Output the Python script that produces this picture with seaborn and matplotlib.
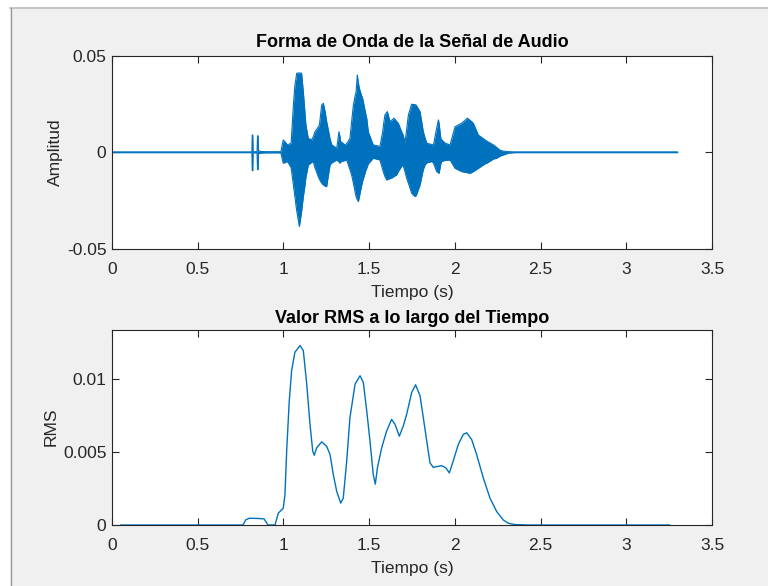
import matplotlib
matplotlib.use("Agg")
import matplotlib.pyplot as plt
import seaborn as sns
import pandas as pd
from matplotlib.patches import Rectangle
from matplotlib.lines import Line2D

# ---- waveform envelope (seconds, amplitude) ----
env_t = [0.000, 0.800, 0.816, 0.818, 0.821, 0.823, 0.846, 0.849, 0.852, 0.854,
         0.870, 0.900, 0.985, 0.999, 1.024, 1.045, 1.058, 1.067, 1.073, 1.077,
         1.093, 1.106, 1.116, 1.126, 1.131, 1.145, 1.165, 1.174, 1.184, 1.203,
         1.210, 1.223, 1.233, 1.243, 1.252, 1.262, 1.272, 1.282, 1.311, 1.324,
         1.330, 1.334, 1.360, 1.369, 1.388, 1.398, 1.408, 1.418, 1.424, 1.431,
         1.437, 1.443, 1.457, 1.462, 1.482, 1.486, 1.495, 1.524, 1.563, 1.579,
         1.582, 1.592, 1.602, 1.606, 1.622, 1.631, 1.645, 1.660, 1.670, 1.695,
         1.699, 1.709, 1.719, 1.729, 1.748, 1.768, 1.774, 1.797, 1.816, 1.826,
         1.836, 1.865, 1.875, 1.894, 1.904, 1.908, 1.918, 1.923, 1.943, 1.972,
         2.001, 2.040, 2.073, 2.089, 2.108, 2.137, 2.176, 2.186, 2.225, 2.244,
         2.264, 2.283, 2.312, 2.350, 2.400, 3.300]
env_upper = [0.0002, 0.0002, 0.0002, 0.0089, 0.0089, 0.0003, 0.0003, 0.0085,
             0.0085, 0.0008, 0.0004, 0.0003, 0.0003, 0.0064, 0.0038, 0.0047,
             0.0244, 0.0347, 0.0380, 0.0408, 0.0410, 0.0408, 0.0313, 0.0200,
             0.0141, 0.0072, 0.0064, 0.0080, 0.0106, 0.0130, 0.0141, 0.0244,
             0.0253, 0.0210, 0.0160, 0.0115, 0.0070, 0.0038, 0.0021, 0.0106,
             0.0080, 0.0055, 0.0038, 0.0045, 0.0072, 0.0160, 0.0244, 0.0290,
             0.0313, 0.0399, 0.0360, 0.0330, 0.0290, 0.0279, 0.0190, 0.0176,
             0.0106, 0.0038, 0.0030, 0.0106, 0.0130, 0.0193, 0.0205, 0.0210,
             0.0158, 0.0165, 0.0176, 0.0160, 0.0150, 0.0095, 0.0089, 0.0047,
             0.0120, 0.0193, 0.0248, 0.0246, 0.0244, 0.0210, 0.0106, 0.0075,
             0.0047, 0.0040, 0.0038, 0.0124, 0.0167, 0.0150, 0.0072, 0.0065,
             0.0047, 0.0038, 0.0132, 0.0150, 0.0176, 0.0165, 0.0150, 0.0089,
             0.0064, 0.0058, 0.0038, 0.0025, 0.0010, 0.0006, 0.0003, 0.0002,
             0.0002, 0.0002]
env_lower = [-0.0002, -0.0002, -0.0002, -0.0095, -0.0095, -0.0003, -0.0003,
             -0.0090, -0.0090, -0.0008, -0.0004, -0.0003, -0.0003, -0.0057,
             -0.0048, -0.0080, -0.0169, -0.0230, -0.0272, -0.0300, -0.0384,
             -0.0307, -0.0230, -0.0169, -0.0130, -0.0066, -0.0052, -0.0048,
             -0.0080, -0.0126, -0.0140, -0.0160, -0.0169, -0.0175, -0.0178,
             -0.0120, -0.0066, -0.0055, -0.0040, -0.0050, -0.0057, -0.0050,
             -0.0042, -0.0040, -0.0090, -0.0118, -0.0160, -0.0204, -0.0230,
             -0.0245, -0.0255, -0.0230, -0.0169, -0.0150, -0.0090, -0.0083,
             -0.0060, -0.0031, -0.0040, -0.0090, -0.0100, -0.0125, -0.0143,
             -0.0142, -0.0136, -0.0134, -0.0125, -0.0118, -0.0100, -0.0066,
             -0.0070, -0.0100, -0.0134, -0.0160, -0.0212, -0.0229, -0.0225,
             -0.0169, -0.0090, -0.0066, -0.0055, -0.0048, -0.0055, -0.0100,
             -0.0106, -0.0109, -0.0060, -0.0048, -0.0042, -0.0040, -0.0083,
             -0.0100, -0.0106, -0.0109, -0.0100, -0.0083, -0.0060, -0.0057,
             -0.0035, -0.0031, -0.0020, -0.0014, -0.0005, -0.0002, -0.0002,
             -0.0002]

# ---- RMS curve (seconds, RMS) ----
rms_t = [0.050, 0.764, 0.780, 0.800, 0.850, 0.887, 0.910, 0.951, 0.970, 0.999,
         1.009, 1.019, 1.034, 1.048, 1.067, 1.097, 1.116, 1.136, 1.155, 1.171,
         1.180, 1.194, 1.223, 1.252, 1.272, 1.291, 1.311, 1.334, 1.349, 1.369,
         1.388, 1.418, 1.447, 1.466, 1.486, 1.505, 1.524, 1.536, 1.548, 1.573,
         1.602, 1.631, 1.651, 1.676, 1.699, 1.719, 1.748, 1.771, 1.797, 1.816,
         1.836, 1.855, 1.874, 1.923, 1.948, 1.968, 1.987, 2.020, 2.049, 2.069,
         2.098, 2.127, 2.166, 2.205, 2.244, 2.283, 2.312, 2.350, 2.430, 3.254]
rms_val = [0.0, 0.0, 0.00035, 0.00046, 0.00045, 0.00042, 0.0, 0.0, 0.00081,
           0.00115, 0.0021, 0.0051, 0.0085, 0.0106, 0.01184, 0.0123, 0.01195,
           0.00966, 0.0069, 0.00506, 0.00478, 0.00529, 0.0057, 0.0054, 0.00483,
           0.00345, 0.0023, 0.0015, 0.00184, 0.00437, 0.00736, 0.00966,
           0.01023, 0.00977, 0.00781, 0.00575, 0.00345, 0.0028, 0.0039,
           0.00529, 0.00644, 0.00724, 0.0069, 0.00609, 0.00678, 0.00759,
           0.00908, 0.00961, 0.00885, 0.00736, 0.00575, 0.00426, 0.00395,
           0.00407, 0.00391, 0.00357, 0.00426, 0.00552, 0.00621, 0.00632,
           0.00586, 0.00483, 0.00322, 0.00184, 0.00092, 0.00034, 0.00012,
           0.00003, 0.0, 0.0]

x_ticks = [0, 0.5, 1, 1.5, 2, 2.5, 3, 3.5]
x_tick_labels = ["0", "0.5", "1", "1.5", "2", "2.5", "3", "3.5"]
wave_ticks = [-0.05, 0, 0.05]
wave_tick_labels = ["-0.05", "0", "0.05"]
rms_ticks = [0, 0.005, 0.01]
rms_tick_labels = ["0", "0.005", "0.01"]

LINE = "#0072BD"
TXT = "#262626"
FS = 12.5
TFS = 13

sns.set_theme(style="white")
plt.rcParams["font.family"] = ["Liberation Sans", "DejaVu Sans"]
plt.rcParams["axes.unicode_minus"] = False

fig = plt.figure(figsize=(7.68, 5.86), dpi=100, facecolor="#f0f0f0")
W, H = 768, 586

# window frame: white strip on top and left with a grey edge
fig.patches.append(Rectangle((0, 1 - 8 / H), 1, 8 / H, transform=fig.transFigure,
                             facecolor="white", edgecolor="none", zorder=0))
fig.patches.append(Rectangle((0, 0), 10 / W, 1, transform=fig.transFigure,
                             facecolor="white", edgecolor="none", zorder=0))
fig.lines.append(Line2D([10 / W, 1], [1 - 8 / H, 1 - 8 / H], transform=fig.transFigure,
                        color="#c6c6c6", lw=1.5))
fig.lines.append(Line2D([10.5 / W, 10.5 / W], [0, 1 - 8 / H], transform=fig.transFigure,
                        color="#9a9a9a", lw=1.0))


def px_axes(left, top, right, bottom):
    return fig.add_axes([left / W, 1 - bottom / H, (right - left) / W, (bottom - top) / H])


def style(ax):
    ax.set_facecolor("white")
    for s in ax.spines.values():
        s.set_color(TXT)
        s.set_linewidth(0.8)
    ax.tick_params(direction="in", length=5, width=0.8, colors=TXT, labelsize=FS,
                   top=True, right=True, bottom=True, left=True)
    ax.tick_params(axis="x", pad=9)
    ax.tick_params(axis="y", pad=4)
    ax.set_xlim(0, 3.5)
    ax.set_xticks(x_ticks)
    ax.set_xticklabels(x_tick_labels)


# ---- waveform ----
ax1 = px_axes(112, 55.5, 712, 249)
style(ax1)
wave = pd.DataFrame({"t": env_t, "up": env_upper, "lo": env_lower})
ax1.fill_between(wave["t"], wave["lo"], wave["up"], color=LINE, linewidth=0)
sns.lineplot(data=wave, x="t", y="up", ax=ax1, color=LINE, linewidth=0.8)
sns.lineplot(data=wave, x="t", y="lo", ax=ax1, color=LINE, linewidth=0.8)
ax1.set_ylim(-0.05, 0.05)
ax1.set_yticks(wave_ticks)
ax1.set_yticklabels(wave_tick_labels)
ax1.set_xlabel("Tiempo (s)", fontsize=FS, color=TXT, labelpad=6)
ax1.set_ylabel("Amplitud", fontsize=FS, color=TXT, labelpad=3)
ax1.set_title("Forma de Onda de la Señal de Audio", fontsize=TFS, fontweight="bold",
              color="black", pad=6)

# ---- RMS ----
ax2 = px_axes(112, 329.5, 712, 525)
style(ax2)
rms = pd.DataFrame({"t": rms_t, "rms": rms_val})
sns.lineplot(data=rms, x="t", y="rms", ax=ax2, color=LINE, linewidth=1.0)
ax2.set_ylim(0, 0.0134)
ax2.set_yticks(rms_ticks)
ax2.set_yticklabels(rms_tick_labels)
ax2.set_xlabel("Tiempo (s)", fontsize=FS, color=TXT, labelpad=6)
ax2.set_ylabel("RMS", fontsize=FS, color=TXT, labelpad=3)
ax2.set_title("Valor RMS a lo largo del Tiempo", fontsize=TFS, fontweight="bold",
              color="black", pad=5)

fig.savefig("out.png", dpi=100, facecolor=fig.get_facecolor())
